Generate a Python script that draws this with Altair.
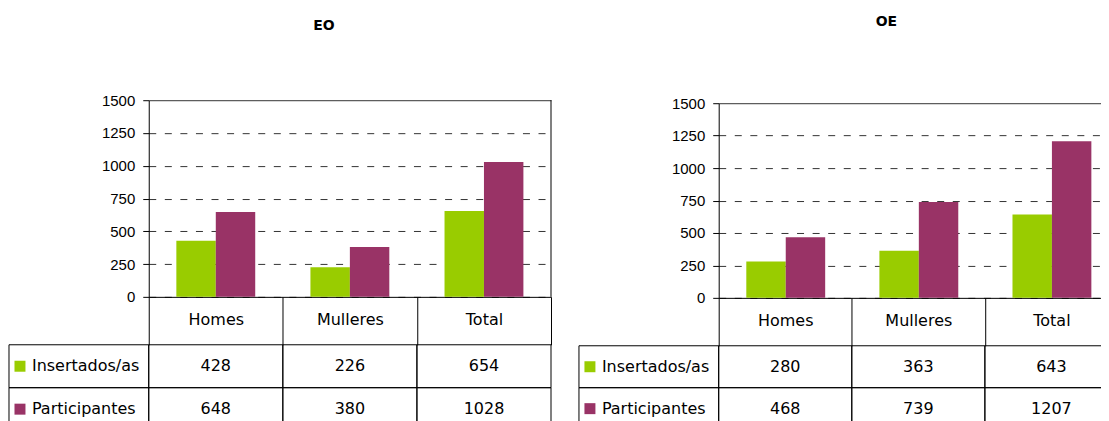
import altair as alt
import pandas as pd

# ---------------- data ----------------
categories = ["Homes", "Mulleres", "Total"]
series = ["Insertados/as", "Participantes"]
eo_insertados = [428, 226, 654]
eo_participantes = [648, 380, 1028]
oe_insertados = [280, 363, 643]
oe_participantes = [468, 739, 1207]
y_ticks = [0, 250, 500, 750, 1000, 1250, 1500]
main_title = "2002-2004"
panel_titles = ["EO", "OE"]
colors = ["#99CC00", "#993366"]

TABLE_FONT = "DejaVu Sans"
AXIS_FONT = "Liberation Sans"
TABLE_SIZE = 16


def long_df(ins, par):
    rows = []
    for s, vals in zip(series, [ins, par]):
        for c, v in zip(categories, vals):
            rows.append({"cat": c, "series": s, "value": v})
    return pd.DataFrame(rows)


def panel(title, ins, par, W, H, top, hdr, rowh, title_dx, title_offset):
    df = long_df(ins, par)
    rows_df = pd.DataFrame({"series": series})
    xs = alt.Scale(domain=categories, paddingInner=0, paddingOuter=0)
    color = alt.Color("series:N", scale=alt.Scale(domain=series, range=colors), legend=None)
    ys = alt.Scale(domain=[0, 1500], range=[H, top], nice=False, zero=True)
    ts = alt.Scale(domain=series, range=[H + hdr, H + hdr + 2 * rowh], paddingInner=0, paddingOuter=0)

    bars = alt.Chart(df).mark_bar(opacity=1).encode(
        x=alt.X("cat:N", scale=xs, sort=categories,
                axis=alt.Axis(title=None, labelAngle=0, labelFont=TABLE_FONT, labelFontSize=TABLE_SIZE,
                              labelColor="black", labelPadding=-25, labelBaseline="middle",
                              tickBand="extent", tickSize=hdr, tickColor="black",
                              domainColor="black", grid=False)),
        xOffset=alt.XOffset("series:N", scale=alt.Scale(domain=series, paddingInner=0, paddingOuter=0.7)),
        y=alt.Y("value:Q", scale=ys,
                axis=alt.Axis(title=None, values=y_ticks, format="d", tickSize=6, tickColor="black",
                              domainColor="black", labelFont=AXIS_FONT, labelFontSize=15,
                              labelColor="black", labelPadding=8, grid=True, gridColor="#333333",
                              gridDash={"condition": {"test": "datum.value >= 1500", "value": []},
                                        "value": [7, 8.6]})),
        color=color,
    )

    border = alt.Chart(pd.DataFrame({"cat": ["Total"], "lo": [0], "hi": [1500]})).mark_rule(
        color="black", strokeWidth=1).encode(
        x=alt.X("cat:N", scale=xs, bandPosition=1),
        y=alt.Y("hi:Q", scale=ys, axis=None),
        y2="lo:Q",
    )

    cells = alt.Chart(df).mark_rect(fillOpacity=0, stroke="black", strokeWidth=1).encode(
        x=alt.X("cat:N", scale=xs),
        y=alt.Y("series:N", scale=ts, axis=None),
    )
    label_cells = alt.Chart(rows_df).mark_rect(fillOpacity=0, stroke="black", strokeWidth=1).encode(
        x=alt.value(-140), x2=alt.value(0),
        y=alt.Y("series:N", scale=ts, axis=None),
    )
    values = alt.Chart(df).mark_text(font=TABLE_FONT, fontSize=TABLE_SIZE, color="black",
                                     baseline="middle").encode(
        x=alt.X("cat:N", scale=xs),
        y=alt.Y("series:N", scale=ts, axis=None),
        text="value:Q",
    )
    squares = alt.Chart(rows_df).mark_square(size=121, opacity=1).encode(
        x=alt.value(-129),
        y=alt.Y("series:N", scale=ts, axis=None),
        color=color,
    )
    labels = alt.Chart(rows_df).mark_text(font=TABLE_FONT, fontSize=TABLE_SIZE, color="black",
                                          align="left", baseline="middle").encode(
        x=alt.value(-117),
        y=alt.Y("series:N", scale=ts, axis=None),
        text="series:N",
    )

    return alt.layer(bars, border, cells, label_cells, values, squares, labels).resolve_scale(
        y="independent"
    ).properties(
        width=W, height=H,
        title=alt.TitleParams(title, font=TABLE_FONT, fontSize=14, fontWeight="bold", color="black",
                              anchor="middle", frame="group", dx=title_dx, offset=title_offset,
                              baseline="alphabetic"),
    )


left = panel(panel_titles[0], eo_insertados, eo_participantes, 403, 197, 0, 48, 43, -26, 49)
right = panel(panel_titles[1], oe_insertados, oe_participantes, 400, 198, 3, 48, 42, -32, 56)

chart = alt.hconcat(left, right, spacing=26).properties(
    title=alt.TitleParams(main_title, font=TABLE_FONT, fontSize=13, fontWeight="bold", color="black",
                          anchor="middle", offset=13, dx=60),
    padding={"left": 0, "top": -19, "right": -18, "bottom": 0},
).configure_view(stroke=None)

chart.save("out.html", embed_options={"renderer": "svg", "actions": False})
